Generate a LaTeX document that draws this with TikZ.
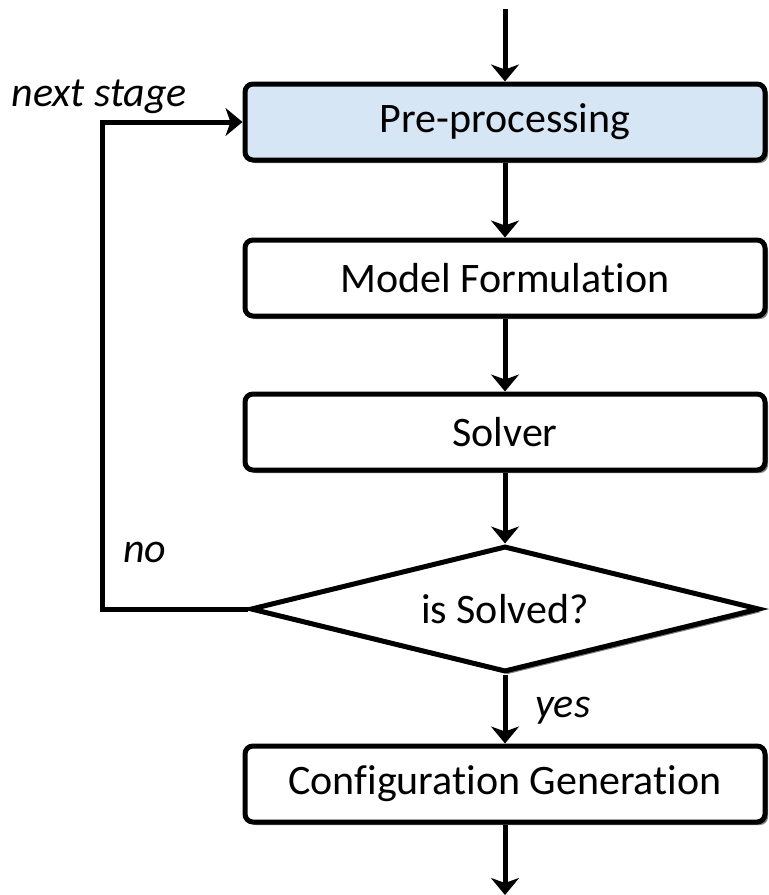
\documentclass[tikz,border=0pt]{standalone}
\usepackage{fontspec}
\setmainfont{Carlito}[Ligatures={TeX,NoCommon}]
\usetikzlibrary{arrows.meta,shapes.geometric,shadows}

\definecolor{prefill}{RGB}{214,230,245}
\definecolor{shadowgray}{RGB}{128,128,128}

\tikzset{
  boxshadow/.style={drop shadow={shadow xshift=3pt, shadow yshift=-3pt,
      fill=shadowgray, opacity=1}},
  stagebox/.style={draw, line width=5pt, rounded corners=8pt, fill=white,
      minimum width=520pt, minimum height=76pt, inner sep=0pt,
      font=\fontsize{42}{50}\selectfont, boxshadow},
  decision/.style={draw, diamond, shape aspect=4.04, line width=5pt, fill=white,
      minimum width=509pt, minimum height=126pt, inner sep=0pt,
      font=\fontsize{42}{50}\selectfont, boxshadow},
  flow/.style={line width=5pt,
      -{Stealth[length=17pt, width=28pt, inset=5pt]}},
  lbl/.style={inner sep=0pt, font=\fontsize{42}{50}\selectfont\itshape},
}

\begin{document}
\begin{tikzpicture}[x=1pt, y=-1pt]
  \useasboundingbox (0,0) rectangle (769,895);

  % process stages
  \node[stagebox, fill=prefill] (pre)  at (505,122) {Pre-processing};
  \node[stagebox]               (model) at (505,278) {Model Formulation};
  \node[stagebox]               (solve) at (505,432) {Solver};
  \node[decision]               (dec)   at (505,609) {is Solved?};
  \node[stagebox]               (conf)  at (505,784) {Configuration Generation};

  % free ends and loop corner
  \coordinate (in)   at (505,9);
  \coordinate (out)  at (505,895);
  \coordinate (loop) at (102,609);

  % main flow
  \draw[flow] (in) -- (pre.north);
  \draw[flow] (pre.south) -- (model.north);
  \draw[flow] (model.south) -- (solve.north);
  \draw[flow] (solve.south) -- (dec.north);
  \draw[flow] (dec.south) -- (conf.north);
  \draw[flow] (conf.south) -- (out);

  % feedback loop to the next stage
  \draw[flow] (dec.west) -- (loop) |- (pre.west);

  % labels
  \node[lbl, anchor=base east] (lnext) at (187,106) {next stage};
  \node[lbl, anchor=base west] (lno)   at (123,562) {no};
  \node[lbl, anchor=base west] (lyes)  at (535,717) {yes};
\end{tikzpicture}
\end{document}
